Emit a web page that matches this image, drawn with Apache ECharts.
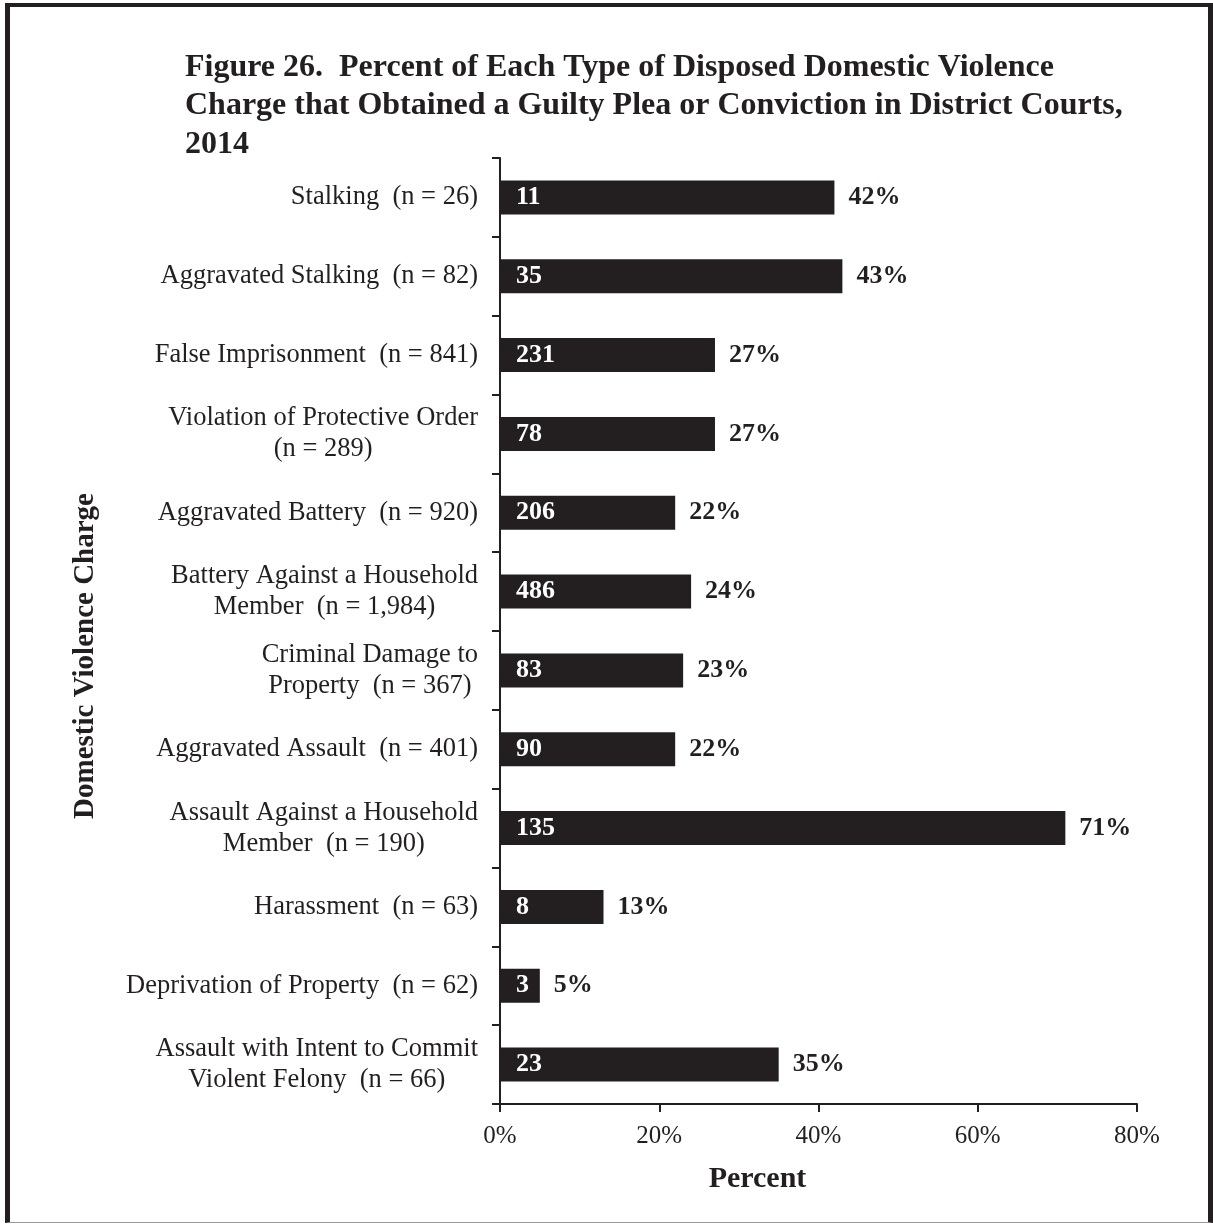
<!DOCTYPE html>
<html>
<head>
<meta charset="utf-8">
<script src="https://cdn.jsdelivr.net/npm/echarts@6/dist/echarts.min.js"></script>
<style>
  html, body { margin: 0; padding: 0; background: #fff; }
  #chart { position: absolute; left: 0; top: 0; width: 1213px; height: 1224px; }
  #frame { position: absolute; left: 5px; top: 3px; width: 1208px; height: 1220px; box-sizing: border-box;
           border-left: 5px solid #231f20; border-top: 4px solid #231f20; border-right: 5px solid #231f20;
           border-bottom: 1px solid #9a9a9a; pointer-events: none; }
</style>
</head>
<body>
<div id="chart"></div>
<div id="frame"></div>
<script>
const categories = [
  "Stalking  (n = 26)",
  "Aggravated Stalking  (n = 82)",
  "False Imprisonment  (n = 841)",
  "Violation of Protective Order\n(n = 289)",
  "Aggravated Battery  (n = 920)",
  "Battery Against a Household\nMember  (n = 1,984)",
  "Criminal Damage to\nProperty  (n = 367)",
  "Aggravated Assault  (n = 401)",
  "Assault Against a Household\nMember  (n = 190)",
  "Harassment  (n = 63)",
  "Deprivation of Property  (n = 62)",
  "Assault with Intent to Commit\nViolent Felony  (n = 66)"
];
const counts = [11, 35, 231, 78, 206, 486, 83, 90, 135, 8, 3, 23];
const percents = [42, 43, 27, 27, 22, 24, 23, 22, 71, 13, 5, 35];
const xTicks = [0, 20, 40, 60, 80];

const INK = '#231f20';
const FONT = '"Liberation Serif", "Times New Roman", serif';

const chart = echarts.init(document.getElementById('chart'), null, { renderer: 'canvas' });
chart.setOption({
  backgroundColor: '#ffffff',
  animation: false,
  title: {
    text: 'Figure 26.  Percent of Each Type of Disposed Domestic Violence\nCharge that Obtained a Guilty Plea or Conviction in District Courts,\n2014',
    left: 180,
    top: 43,
    textStyle: { fontFamily: FONT, fontWeight: 'bold', fontSize: 32, lineHeight: 38.5, color: INK }
  },
  grid: { left: 500, right: 76, top: 158, bottom: 120, containLabel: false },
  xAxis: {
    type: 'value',
    min: xTicks[0],
    max: xTicks[xTicks.length - 1],
    interval: 20,
    name: 'Percent',
    nameLocation: 'middle',
    nameGap: 60,
    nameTextStyle: { fontFamily: FONT, fontWeight: 'bold', fontSize: 30, color: INK, padding: [0, 122, 0, 0] },
    axisLine: { show: true, lineStyle: { color: INK, width: 2 } },
    axisTick: { show: true, length: 8, lineStyle: { color: INK, width: 2 } },
    axisLabel: { formatter: '{value}%', fontFamily: FONT, fontSize: 25, color: INK, margin: 20 },
    splitLine: { show: false }
  },
  yAxis: {
    type: 'category',
    data: categories,
    inverse: true,
    name: 'Domestic Violence Charge',
    nameLocation: 'middle',
    nameRotate: 90,
    nameGap: 400,
    nameTextStyle: { fontFamily: FONT, fontWeight: 'bold', fontSize: 29, color: INK, padding: [0, 50, 0, 0] },
    axisLine: { show: true, lineStyle: { color: INK, width: 2 } },
    axisTick: { show: true, length: 8, alignWithLabel: false, lineStyle: { color: INK, width: 2 } },
    axisLabel: {
      fontFamily: FONT, fontSize: 26.5, color: INK, margin: 22, lineHeight: 31, align: 'right',
      formatter: function (v) {
        return v.split('\n').map(function (l) { return '{c|' + l + '}'; }).join('\n');
      },
      rich: { c: { align: 'center', fontFamily: FONT, fontSize: 26.5, lineHeight: 31, color: INK } }
    }
  },
  series: [
    {
      name: 'Count',
      type: 'bar',
      data: percents.map(function (p, i) { return { value: p, count: counts[i] }; }),
      barWidth: 34,
      itemStyle: { color: INK },
      label: {
        show: true,
        position: 'insideLeft',
        distance: 16,
        formatter: function (p) { return counts[p.dataIndex]; },
        fontFamily: FONT, fontWeight: 'bold', fontSize: 26, color: '#ffffff'
      },
      z: 2
    },
    {
      name: 'Percent',
      type: 'bar',
      data: percents,
      barWidth: 34,
      barGap: '-100%',
      itemStyle: { color: 'rgba(0,0,0,0)' },
      label: {
        show: true,
        position: 'right',
        distance: 14,
        formatter: '{c}%',
        fontFamily: FONT, fontWeight: 'bold', fontSize: 26, color: INK
      },
      z: 3
    }
  ]
});
</script>
</body>
</html>
